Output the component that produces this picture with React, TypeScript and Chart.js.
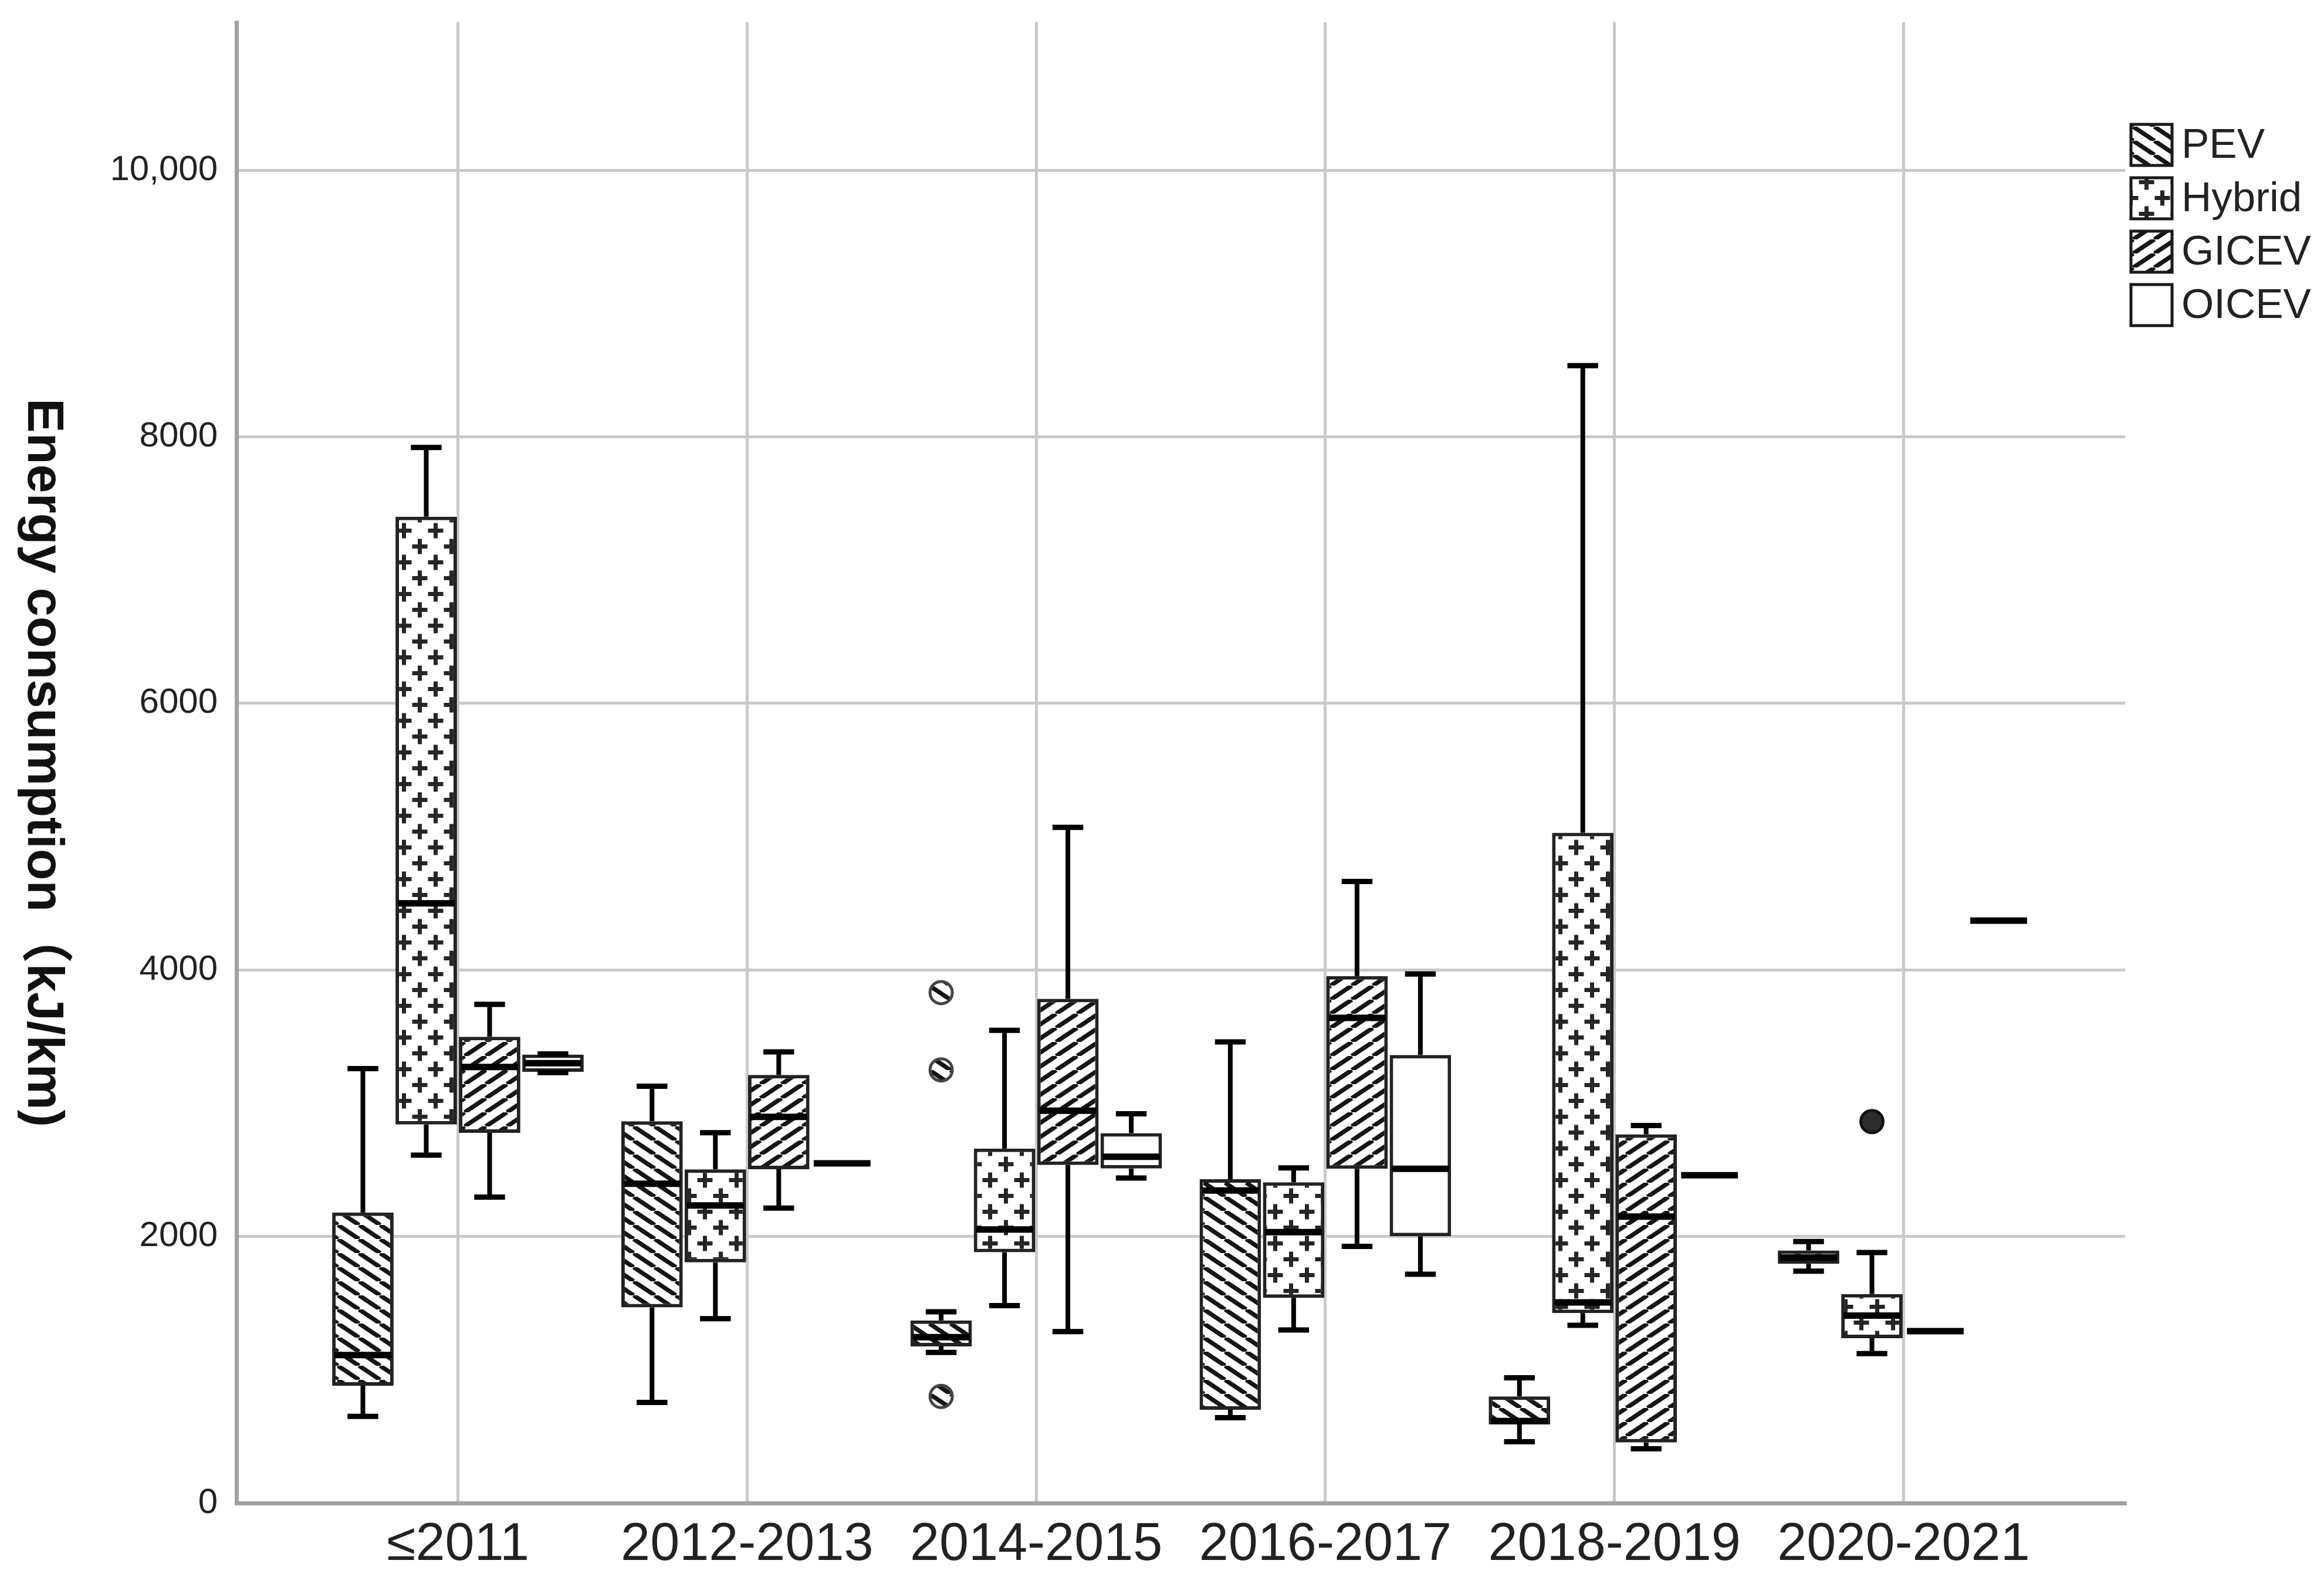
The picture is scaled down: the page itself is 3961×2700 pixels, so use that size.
import React, { useEffect, useRef } from 'react';
import { Chart, registerables } from 'chart.js';

Chart.register(...registerables);

// ---------- data ----------
const categories = ['≤2011', '2012-2013', '2014-2015', '2016-2017', '2018-2019', '2020-2021'];
const seriesNames = ['PEV', 'Hybrid', 'GICEV', 'OICEV'];

// each entry: [min, q1, median, q3, max]
const pevStats = [
  [650, 880, 1110, 2180, 3260],
  [755, 1468, 2396, 2864, 3127],
  [1130, 1175, 1245, 1370, 1435],
  [640, 700, 2345, 2430, 3460],
  [460, 590, 615, 800, 940],
  [1740, 1795, 1842, 1895, 1962],
];
const hybridStats = [
  [2610, 2840, 4500, 7400, 7920],
  [1383, 1806, 2233, 2504, 2779],
  [1481, 1882, 2052, 2660, 3547],
  [1299, 1540, 2033, 2407, 2515],
  [1334, 1425, 1505, 5029, 8534],
  [1121, 1237, 1406, 1568, 1880],
];
const gicevStats = [
  [2295, 2777, 3272, 3498, 3741],
  [2213, 2505, 2897, 3212, 3385],
  [1286, 2536, 2944, 3783, 5070],
  [1926, 2508, 3640, 3954, 4664],
  [407, 454, 2149, 2766, 2833],
  [1290, 1290, 1290, 1290, 1290],
];
const oicevStats = [
  [3230, 3235, 3300, 3365, 3370],
  [2549, 2549, 2549, 2549, 2549],
  [2439, 2510, 2598, 2775, 2921],
  [1717, 2002, 2508, 3362, 3969],
  [2460, 2460, 2460, 2460, 2460],
  [4370, 4370, 4370, 4370, 4370],
];
// [category index, value]
const pevOutliers = [
  [2, 3830],
  [2, 3250],
  [2, 800],
];
const hybridOutliers = [[5, 2862]];

const yTickValues = [0, 2000, 4000, 6000, 8000, 10000];
const yTickLabels = ['0', '2000', '4000', '6000', '8000', '10,000'];
const yAxisTitle = 'Energy consumption（kJ/km)';

// ---------- styling ----------
const FONT = "'Liberation Sans', Arial, 'Noto Sans CJK SC', sans-serif";
const GRID = '#c9c9c9';
const AXIS = '#a2a2a2';
const BOX_BORDER = '#222222';
const GROUP_PCT = 0.8766;
const BAR_PCT = 0.97;
const X_MIN = -0.766;
const X_MAX = 5.766;
const Y_MAX = 11110;

const statsList = [pevStats, hybridStats, gicevStats, oicevStats];

function groupOffset(seriesIndex: number) {
  return (seriesIndex - 1.5) * (GROUP_PCT / 4);
}

function makeStripe(dir: 'back' | 'fwd'): CanvasPattern | string {
  const W = 36;
  const H = 24;
  const c = document.createElement('canvas');
  c.width = W;
  c.height = H;
  const g = c.getContext('2d');
  if (!g) return '#fff';
  g.fillStyle = '#ffffff';
  g.fillRect(0, 0, W, H);
  g.strokeStyle = '#151515';
  g.lineWidth = 7.5;
  g.beginPath();
  for (const k of [-1, 0, 1]) {
    if (dir === 'back') {
      g.moveTo(k * W, 0);
      g.lineTo(k * W + W, H);
    } else {
      g.moveTo(k * W, H);
      g.lineTo(k * W + W, 0);
    }
  }
  g.stroke();
  return g.createPattern(c, 'repeat') || '#fff';
}

function makeCross(): CanvasPattern | string {
  const W = 54;
  const H = 54;
  const c = document.createElement('canvas');
  c.width = W;
  c.height = H;
  const g = c.getContext('2d');
  if (!g) return '#fff';
  g.fillStyle = '#ffffff';
  g.fillRect(0, 0, W, H);
  g.fillStyle = '#262626';
  const arm = 13;
  const t = 7;
  const pts = [
    [13.5, 13.5],
    [40.5, 40.5],
  ];
  for (const [cx, cy] of pts) {
    g.fillRect(cx - arm, cy - t / 2, arm * 2, t);
    g.fillRect(cx - t / 2, cy - arm, t, arm * 2);
  }
  return g.createPattern(c, 'repeat') || '#fff';
}

function makeBoxPlotPlugin(patterns: (CanvasPattern | string)[]) {
  return {
    id: 'boxPlotExtras',
    afterDatasetsDraw(chart: any) {
      const ctx = chart.ctx;
      const yS = chart.scales.y;
      ctx.save();
      ctx.strokeStyle = '#000';
      ctx.lineCap = 'butt';
      statsList.forEach((stats, s) => {
        const meta = chart.getDatasetMeta(s);
        meta.data.forEach((bar: any, i: number) => {
          const st = stats[i];
          if (!st) return;
          const [mn, q1, med, q3, mx] = st;
          const { x, width } = bar.getProps(['x', 'width'], true);
          const pMin = yS.getPixelForValue(mn);
          const pQ1 = yS.getPixelForValue(q1);
          const pMed = yS.getPixelForValue(med);
          const pQ3 = yS.getPixelForValue(q3);
          const pMax = yS.getPixelForValue(mx);
          ctx.lineWidth = 8;
          ctx.beginPath();
          if (mx > q3) {
            ctx.moveTo(x, pQ3);
            ctx.lineTo(x, pMax);
          }
          if (mn < q1) {
            ctx.moveTo(x, pQ1);
            ctx.lineTo(x, pMin);
          }
          ctx.stroke();
          const capHalf = width * 0.25;
          ctx.lineWidth = 9;
          ctx.beginPath();
          if (mx > q3) {
            ctx.moveTo(x - capHalf, pMax);
            ctx.lineTo(x + capHalf, pMax);
          }
          if (mn < q1) {
            ctx.moveTo(x - capHalf, pMin);
            ctx.lineTo(x + capHalf, pMin);
          }
          ctx.stroke();
          const medHalf = width / 2 - 4;
          ctx.lineWidth = 11;
          ctx.beginPath();
          ctx.moveTo(x - medHalf, pMed);
          ctx.lineTo(x + medHalf, pMed);
          ctx.stroke();
        });
      });
      ctx.restore();
    },
    afterDraw(chart: any) {
      const ctx = chart.ctx;
      const area = chart.chartArea;
      // y-axis title, reading top to bottom
      ctx.save();
      ctx.translate(48, (area.top + area.bottom) / 2);
      ctx.rotate(Math.PI / 2);
      ctx.font = `bold 88px ${FONT}`;
      ctx.fillStyle = '#111';
      ctx.textAlign = 'center';
      ctx.textBaseline = 'alphabetic';
      ctx.fillText(yAxisTitle, 0, 0);
      ctx.restore();
      // legend
      ctx.save();
      const boxX = area.right + 10;
      const box = 70;
      const rowH = 91;
      const top0 = 212;
      ctx.font = `71px ${FONT}`;
      ctx.textAlign = 'left';
      ctx.textBaseline = 'middle';
      seriesNames.forEach((name, s) => {
        const y0 = top0 + s * rowH;
        ctx.fillStyle = patterns[s] as any;
        ctx.fillRect(boxX, y0, box, box);
        ctx.lineWidth = 5;
        ctx.strokeStyle = '#1a1a1a';
        ctx.strokeRect(boxX, y0, box, box);
        ctx.fillStyle = '#222';
        ctx.fillText(name, boxX + box + 16, y0 + box / 2 + 2);
      });
      ctx.restore();
    },
  };
}

export default function App() {
  const ref = useRef<HTMLCanvasElement | null>(null);

  useEffect(() => {
    if (!ref.current) return;
    const patterns = [makeStripe('back'), makeCross(), makeStripe('fwd'), '#ffffff'];

    const barSets = statsList.map((stats, s) => ({
      type: 'bar' as const,
      label: seriesNames[s],
      data: stats.map((st, i) => ({ x: i, y: [st[1], st[3]] })),
      backgroundColor: patterns[s],
      borderColor: BOX_BORDER,
      borderWidth: 6,
      borderSkipped: false,
      categoryPercentage: GROUP_PCT,
      barPercentage: BAR_PCT,
      grouped: true,
    }));

    const outlierSets = [
      {
        type: 'scatter' as const,
        label: 'PEV outliers',
        data: pevOutliers.map(([c, v]) => ({ x: c + groupOffset(0), y: v })),
        pointRadius: 19,
        pointBackgroundColor: patterns[0],
        pointBorderColor: '#444',
        pointBorderWidth: 5,
      },
      {
        type: 'scatter' as const,
        label: 'Hybrid outliers',
        data: hybridOutliers.map(([c, v]) => ({ x: c + groupOffset(1), y: v })),
        pointRadius: 19,
        pointBackgroundColor: '#2b2b2b',
        pointBorderColor: '#111',
        pointBorderWidth: 5,
      },
    ];

    const chart = new Chart(ref.current, {
      type: 'bar',
      data: { datasets: [...barSets, ...outlierSets] as any },
      plugins: [makeBoxPlotPlugin(patterns)],
      options: {
        responsive: false,
        animation: false,
        devicePixelRatio: 1,
        events: [],
        layout: { padding: { top: 38, left: 0, right: 339, bottom: 0 } },
        scales: {
          x: {
            type: 'linear',
            min: X_MIN,
            max: X_MAX,
            offset: false,
            afterFit: (s: any) => {
              s.height = 138;
              s.paddingLeft = 0;
              s.paddingRight = 0;
            },
            afterBuildTicks: (s: any) => {
              s.ticks = categories.map((_, i) => ({ value: i }));
            },
            grid: { offset: false, color: GRID, lineWidth: 5, drawTicks: false },
            border: { display: true, color: AXIS, width: 7 },
            ticks: {
              autoSkip: false,
              maxRotation: 0,
              minRotation: 0,
              padding: 18,
              color: '#222',
              font: { size: 90, family: FONT },
              callback: (v: any) => (categories[Math.round(v)] !== undefined ? categories[Math.round(v)] : ''),
            },
          },
          y: {
            type: 'linear',
            min: 0,
            max: Y_MAX,
            afterFit: (s: any) => {
              s.width = 403;
              s.paddingTop = 0;
              s.paddingBottom = 0;
            },
            afterBuildTicks: (s: any) => {
              s.ticks = yTickValues.map((v) => ({ value: v }));
            },
            grid: { color: GRID, lineWidth: 5, drawTicks: false },
            border: { display: true, color: AXIS, width: 7 },
            ticks: {
              autoSkip: false,
              padding: 32,
              color: '#222',
              font: { size: 60, family: FONT },
              callback: (v: any) => {
                const k = yTickValues.indexOf(v);
                return k >= 0 ? yTickLabels[k] : '';
              },
            },
          },
        },
        plugins: {
          tooltip: { enabled: false },
          legend: { display: false },
        },
      } as any,
    });
    return () => chart.destroy();
  }, []);

  return (
    <div style={{ position: 'fixed', left: 0, top: 0, width: 3961, height: 2700, background: '#ffffff' }}>
      <canvas ref={ref} width={3961} height={2700} style={{ display: 'block', width: 3961, height: 2700 }} />
    </div>
  );
}
